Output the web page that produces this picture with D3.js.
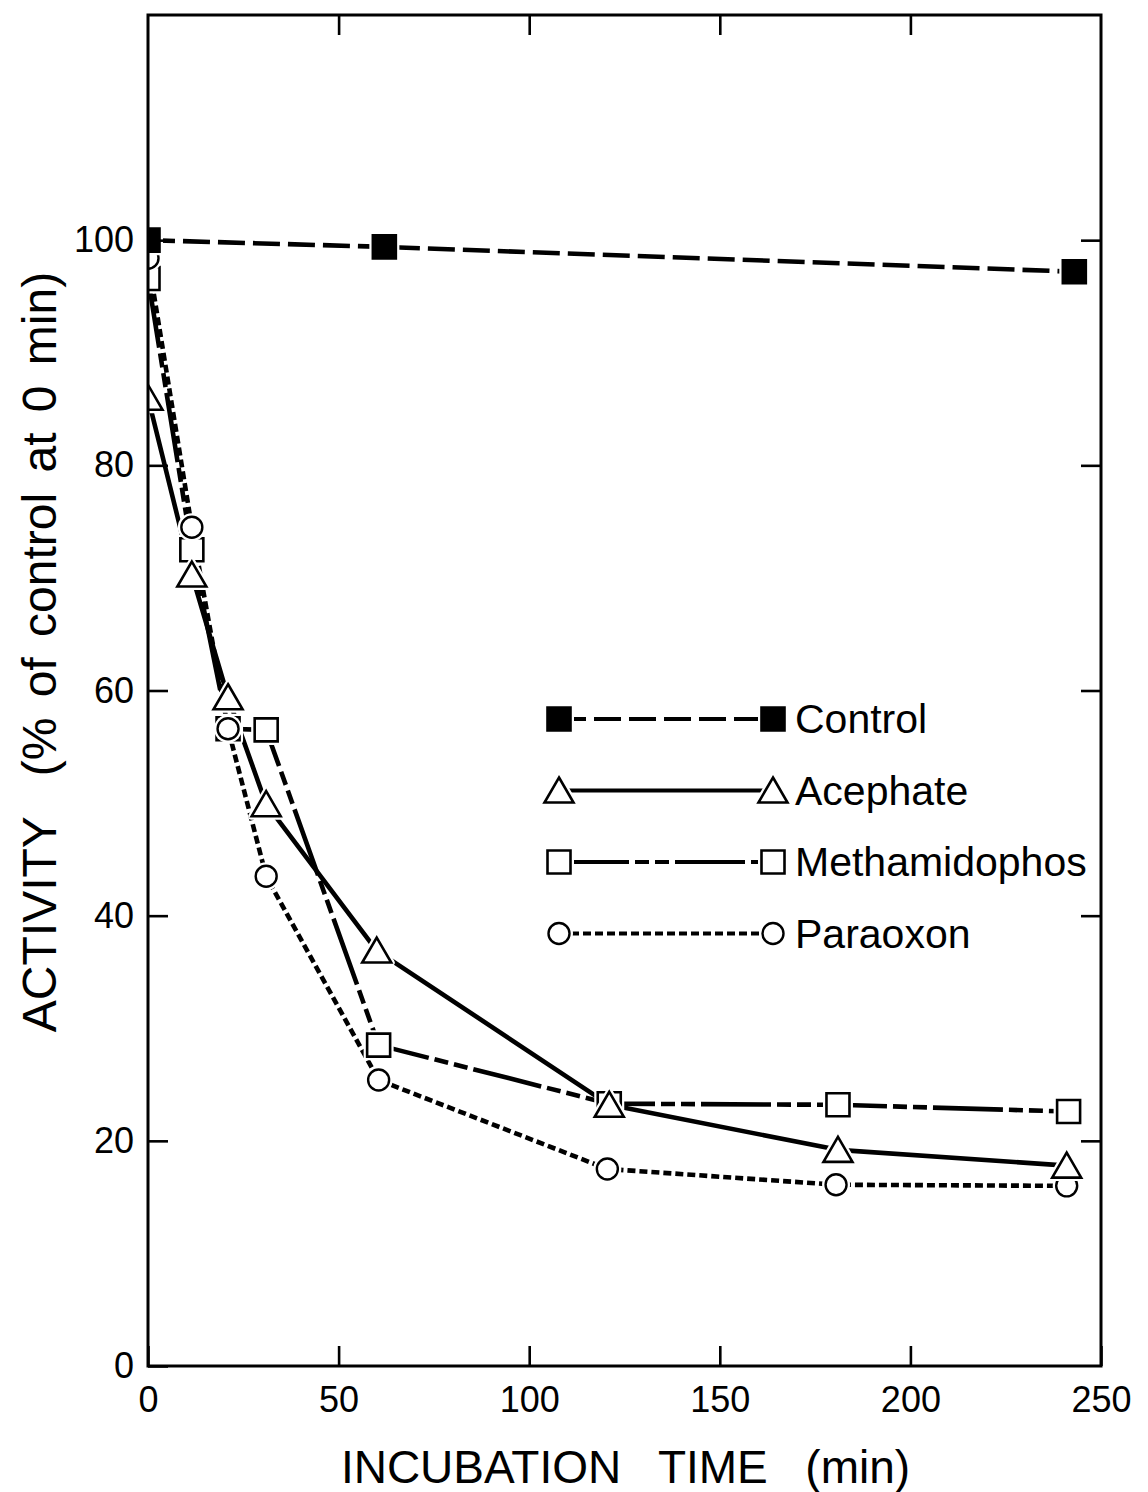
<!DOCTYPE html>
<html>
<head>
<meta charset="utf-8">
<script src="https://cdn.jsdelivr.net/npm/d3@7"></script>
<style>
  html, body { margin: 0; padding: 0; background: #fff; }
  svg { display: block; }
  text { font-family: "Liberation Sans", Arial, Helvetica, sans-serif; fill: #000; }
</style>
</head>
<body>
<svg id="chart" width="1148" height="1492"></svg>
<script>
// Incubation time (min) and remaining activity (% of control at 0 min)
const controlTime = [0, 62, 243];
const controlActivity = [100, 99.4, 97.2];

const acephateTime = [0, 11.5, 21, 31, 60, 121, 181, 241];
const acephateActivity = [86, 70.3, 59.4, 49.9, 36.9, 23.2, 19.2, 17.8];

const methamidophosTime = [0, 11.5, 21, 31, 60.5, 121, 181, 241.5];
const methamidophosActivity = [96.6, 72.5, 56.6, 56.5, 28.5, 23.3, 23.2, 22.6];

const paraoxonTime = [0, 11.5, 21, 31, 60.5, 120.5, 180.5, 241];
const paraoxonActivity = [98.4, 74.5, 56.6, 43.5, 25.4, 17.5, 16.1, 16.0];

const seriesNames = ["Control", "Acephate", "Methamidophos", "Paraoxon"];
const xTickValues = [0, 50, 100, 150, 200, 250];
const yTickValues = [0, 20, 40, 60, 80, 100];

const xTitle = "INCUBATION  TIME  (min)";
const yTitle = "ACTIVITY  (% of control at 0 min)";

// Layout
const plot = { left: 148, right: 1101, top: 15, bottom: 1366 };
const svg = d3.select("#chart");

const x = d3.scaleLinear().domain([0, 250]).range([plot.left, plot.right]);
const y = d3.scaleLinear().domain([0, 120]).range([plot.bottom, plot.top]);

// Per-series styling
const styles = {
  Control:       { marker: "filledSquare", dash: "27,8" },
  Acephate:      { marker: "triangle",     dash: null },
  Methamidophos: { marker: "square",       dash: "70,6,14,6,14,6" },
  Paraoxon:      { marker: "circle",       dash: "8,4" }
};

const series = [
  { name: "Control",       t: controlTime,       v: controlActivity },
  { name: "Acephate",      t: acephateTime,      v: acephateActivity },
  { name: "Methamidophos", t: methamidophosTime, v: methamidophosActivity },
  { name: "Paraoxon",      t: paraoxonTime,      v: paraoxonActivity }
].map(s => ({ ...s, points: s.t.map((t, i) => ({ t, v: s.v[i] })) }));

// Marker shapes drawn around a centre point
function markerPath(kind) {
  if (kind === "triangle") return "M0,-13L14.5,12L-14.5,12Z";
  if (kind === "circle") return d3.arc()({ innerRadius: 0, outerRadius: 10.5, startAngle: 0, endAngle: 2 * Math.PI });
  return "M-11.5,-11.5H11.5V11.5H-11.5Z";
}

function drawMarker(g, kind, cx, cy) {
  const p = markerPath(kind);
  // white halo leaves a small gap between line ends and the symbol
  g.append("path").attr("d", p).attr("transform", `translate(${cx},${cy})`)
    .attr("fill", "#fff").attr("stroke", "#fff").attr("stroke-width", 7)
    .attr("stroke-linejoin", "round");
  g.append("path").attr("d", p).attr("transform", `translate(${cx},${cy})`)
    .attr("fill", kind === "filledSquare" ? "#000" : "#fff")
    .attr("stroke", "#000").attr("stroke-width", kind === "circle" ? 2.4 : 2.6)
    .attr("stroke-linejoin", "miter");
}

// Clip to the plotting frame
svg.append("defs").append("clipPath").attr("id", "plotClip")
  .append("rect")
  .attr("x", plot.left).attr("y", plot.top)
  .attr("width", plot.right - plot.left).attr("height", plot.bottom - plot.top);

const dataLayer = svg.append("g").attr("clip-path", "url(#plotClip)");

const line = d3.line().x(d => x(d.t)).y(d => y(d.v));

// Lines first
series.forEach(s => {
  const st = styles[s.name];
  dataLayer.append("path")
    .datum(s.points)
    .attr("d", line)
    .attr("fill", "none")
    .attr("stroke", "#000")
    .attr("stroke-width", 4.6)
    .attr("stroke-dasharray", st.dash)
    .attr("stroke-linejoin", "round");
});

// Then the markers (later series on top)
const markerOrder = ["Methamidophos", "Paraoxon", "Acephate", "Control"];
markerOrder.forEach(name => {
  const s = series.find(d => d.name === name);
  const g = dataLayer.append("g");
  s.points.forEach(p => drawMarker(g, styles[name].marker, x(p.t), y(p.v)));
});

// Axes with inward ticks
const tickLen = 20;
const axisFont = 36;

const gLeft = svg.append("g").attr("transform", `translate(${plot.left},0)`)
  .call(d3.axisLeft(y).tickValues(yTickValues).tickSize(-tickLen).tickPadding(14).tickFormat(d3.format("d")));
const gBottom = svg.append("g").attr("transform", `translate(0,${plot.bottom})`)
  .call(d3.axisBottom(x).tickValues(xTickValues).tickSize(-tickLen).tickPadding(20).tickFormat(d3.format("d")));
const gTop = svg.append("g").attr("transform", `translate(0,${plot.top})`)
  .call(d3.axisTop(x).tickValues(xTickValues.slice(1, -1)).tickSize(-tickLen).tickFormat(""));
const gRight = svg.append("g").attr("transform", `translate(${plot.right},0)`)
  .call(d3.axisRight(y).tickValues(yTickValues.slice(1)).tickSize(-tickLen).tickFormat(""));

[gLeft, gBottom, gTop, gRight].forEach(g => {
  g.select(".domain").remove();
  g.selectAll(".tick line").attr("stroke", "#000").attr("stroke-width", 2.6);
  g.selectAll(".tick text")
    .style("font-family", '"Liberation Sans", Arial, sans-serif')
    .attr("font-size", axisFont).attr("fill", "#000");
});

// Frame
svg.append("rect")
  .attr("x", plot.left).attr("y", plot.top)
  .attr("width", plot.right - plot.left).attr("height", plot.bottom - plot.top)
  .attr("fill", "none").attr("stroke", "#000").attr("stroke-width", 3);

// Axis titles
svg.append("text")
  .attr("x", (plot.left + plot.right) / 2 + 1)
  .attr("y", 1483)
  .attr("text-anchor", "middle")
  .attr("font-size", 46)
  .style("white-space", "pre")
  .attr("word-spacing", 6)
  .text(xTitle);

svg.append("text")
  .attr("transform", `translate(56,652) rotate(-90)`)
  .attr("text-anchor", "middle")
  .attr("font-size", 48)
  .style("white-space", "pre")
  .attr("word-spacing", 7)
  .text(yTitle);

// Legend
const legend = { x0: 559, x1: 773, textX: 795, y0: 719, dy: 71.5 };
const legendG = svg.append("g");
seriesNames.forEach((name, i) => {
  const st = styles[name];
  const cy = legend.y0 + i * legend.dy;
  legendG.append("line")
    .attr("x1", legend.x0).attr("x2", legend.x1)
    .attr("y1", cy).attr("y2", cy)
    .attr("stroke", "#000").attr("stroke-width", 4.2)
    .attr("stroke-dasharray", st.dash);
  drawMarker(legendG, st.marker, legend.x0, cy);
  drawMarker(legendG, st.marker, legend.x1, cy);
  legendG.append("text")
    .attr("x", legend.textX).attr("y", cy + 14)
    .attr("font-size", 41)
    .text(name);
});
</script>
</body>
</html>
